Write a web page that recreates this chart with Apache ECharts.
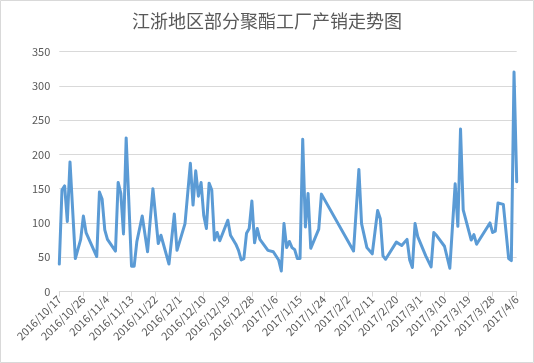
<!DOCTYPE html>
<html>
<head>
<meta charset="utf-8">
<script src="https://cdn.jsdelivr.net/npm/echarts@6/dist/echarts.min.js"></script>
<style>
html,body{margin:0;padding:0;background:#fff;}
#chart{width:534px;height:363px;}
</style>
</head>
<body>
<div id="chart"></div>
<script>
const titleText = '江浙地区部分聚酯工厂产销走势图';
const startDate = '2016/10/17';
const endDate = '2017/4/6';
const pointDates = [
 '2016/10/17','2016/10/18','2016/10/19','2016/10/20','2016/10/21','2016/10/23','2016/10/25','2016/10/26','2016/10/27',
 '2016/10/31','2016/11/1','2016/11/2','2016/11/3','2016/11/4','2016/11/7','2016/11/8','2016/11/9','2016/11/10','2016/11/11',
 '2016/11/13','2016/11/14','2016/11/15','2016/11/17','2016/11/18','2016/11/19','2016/11/21','2016/11/23','2016/11/24',
 '2016/11/27','2016/11/29','2016/11/30','2016/12/3','2016/12/5','2016/12/6','2016/12/7','2016/12/8','2016/12/9','2016/12/10',
 '2016/12/11','2016/12/12','2016/12/13','2016/12/14','2016/12/15','2016/12/16','2016/12/19','2016/12/20','2016/12/22',
 '2016/12/23','2016/12/24','2016/12/25','2016/12/26','2016/12/27','2016/12/28','2016/12/29','2016/12/30','2016/12/31',
 '2017/1/3','2017/1/5','2017/1/7','2017/1/8','2017/1/9','2017/1/10','2017/1/11','2017/1/12','2017/1/13','2017/1/14',
 '2017/1/15','2017/1/16','2017/1/17','2017/1/18','2017/1/19','2017/1/22','2017/1/23','2017/2/4','2017/2/6','2017/2/7',
 '2017/2/9','2017/2/11','2017/2/13','2017/2/14','2017/2/15','2017/2/16','2017/2/20','2017/2/22','2017/2/24','2017/2/25',
 '2017/2/26','2017/2/27','2017/2/28','2017/3/3','2017/3/5','2017/3/6','2017/3/7','2017/3/10','2017/3/12','2017/3/14',
 '2017/3/15','2017/3/16','2017/3/17','2017/3/20','2017/3/21','2017/3/22','2017/3/27','2017/3/28','2017/3/29','2017/3/30',
 '2017/4/1','2017/4/3','2017/4/4','2017/4/5','2017/4/6'
];
const pointValues = [
 40,148,154,102,189,48,76,110,86,
 51,145,135,90,76,59,159,143,84,224,
 37,37,73,110,84,58,150,70,82,
 40,113,60,99,187,126,176,139,159,111,
 92,158,148,75,86,74,104,82,69,
 60,46,48,85,92,132,71,92,76,
 60,58,46,30,99,64,73,64,61,48,
 48,222,94,143,63,91,142,59,178,99,
 64,55,118,106,52,47,72,67,76,46,
 35,99,80,52,36,86,82,66,34,157,
 95,237,119,75,83,69,100,86,88,129,
 127,48,45,320,160
];
const yTicks = [0,50,100,150,200,250,300,350];

function fmt(d){ return d.getUTCFullYear()+'/'+(d.getUTCMonth()+1)+'/'+d.getUTCDate(); }
function parse(s){ const p=s.split('/').map(Number); return Date.UTC(p[0],p[1]-1,p[2]); }
const categories = [];
for (let t = parse(startDate); t <= parse(endDate); t += 86400000) categories.push(fmt(new Date(t)));
const valueMap = {};
pointDates.forEach((d,i)=>{ valueMap[d]=pointValues[i]; });
const seriesData = categories.map(c => (c in valueMap) ? valueMap[c] : null);

const chart = echarts.init(document.getElementById('chart'));
chart.setOption({
  animation:false,
  backgroundColor:'#ffffff',
  title:{
    text:titleText, left:'center', top:7,
    textStyle:{fontFamily:'Noto Sans CJK SC', fontSize:18, fontWeight:'normal', color:'#595959'}
  },
  graphic:[{type:'rect', shape:{x:0.5,y:0.5,width:533,height:362}, style:{fill:'none', stroke:'#d9d9d9', lineWidth:1}, silent:true}],
  grid:{left:59.3, right:17.3, top:51.5, bottom:71.5, containLabel:false},
  xAxis:{
    type:'category', data:categories, boundaryGap:false,
    axisLine:{lineStyle:{color:'#d9d9d9', width:1}},
    axisTick:{show:true, interval:8, length:5, lineStyle:{color:'#d9d9d9'}},
    axisLabel:{interval:8, rotate:45, margin:6, fontSize:11, color:'#595959', fontFamily:'Noto Sans CJK SC'},
    splitLine:{show:false}
  },
  yAxis:{
    type:'value', min:yTicks[0], max:yTicks[yTicks.length-1], interval:50,
    axisLine:{show:false}, axisTick:{show:false},
    axisLabel:{margin:9, fontSize:11, color:'#595959', fontFamily:'Noto Sans CJK SC'},
    splitLine:{lineStyle:{color:'#d9d9d9', width:1}}
  },
  series:[{
    type:'line', data:seriesData, connectNulls:true, showSymbol:false, symbol:'none',
    lineStyle:{color:'#5b9bd5', width:3, join:'round', cap:'round'}, itemStyle:{color:'#5b9bd5'}
  }]
});
</script>
</body>
</html>
